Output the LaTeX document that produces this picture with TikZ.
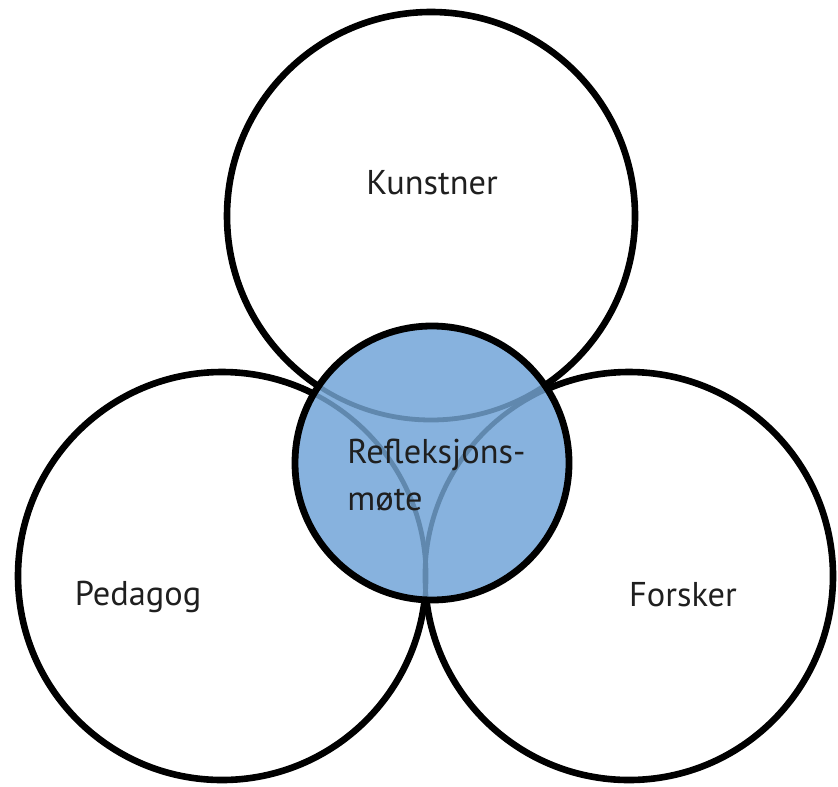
\documentclass[tikz,border=0pt]{standalone}
\usepackage{fontspec}
\setmainfont{PT Sans}
\definecolor{moteblue}{RGB}{135,178,222}
\definecolor{arcblue}{RGB}{96,136,174}

\begin{document}
\begin{tikzpicture}[x=0.5pt,y=-0.5pt,
	lbl/.style={inner sep=0pt,font=\fontsize{17.2}{23.5}\selectfont,text=black!88}]

% parameters %{{{2

	\def\rbig{204}
	\def\rmid{137}

% coordinates %{{{2

	\coordinate (K) at (431,216);
	\coordinate (P) at (222,576);
	\coordinate (F) at (629,576);
	\coordinate (M) at (432,463);

	\useasboundingbox (0,0) rectangle (838,786);

% big circles %{{{2

	\foreach \c in {K,P,F} { \draw[line width=3.3pt,fill=white] (\c) circle (\rbig); }

% middle circle %{{{2

	\fill[moteblue] (M) circle (\rmid);
	\begin{scope}
		\clip (M) circle (\rmid);
		\foreach \c in {K,P,F} { \draw[arcblue,line width=2.4pt] (\c) circle (\rbig); }
	\end{scope}
	\draw[line width=3.4pt] (M) circle (\rmid);

% labels %{{{2

	\node[lbl] (kunstner) at (432,183) {Kunstner};
	\node[lbl] (pedagog) at (138,597) {Pedagog};
	\node[lbl] (forsker) at (683,595) {Forsker};
	\node[lbl,align=left,anchor=base west] (mote) at (347,510) {Refleksjons-\\møte};

% closing %{{{2

\end{tikzpicture}
\end{document}
